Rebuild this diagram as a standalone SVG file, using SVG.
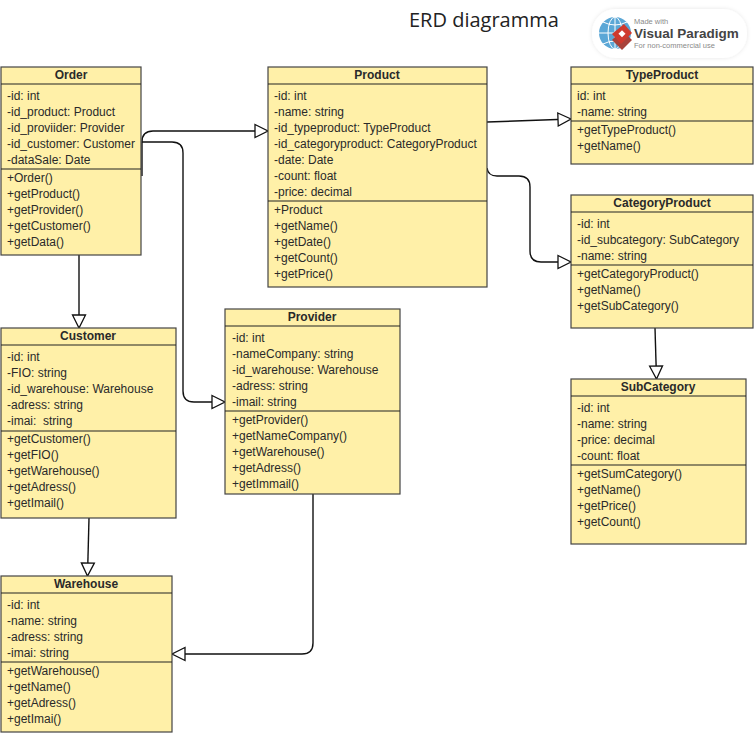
<svg xmlns="http://www.w3.org/2000/svg" width="754" height="734" viewBox="0 0 754 734">
<style>
text{font-family:"Liberation Sans",Arial,sans-serif;font-size:12px;fill:#2a2a2a}
.t{font-weight:bold;text-anchor:middle}
.b{fill:#fff0a8;stroke:#444;stroke-width:1.2}
.d{stroke:#222;stroke-width:1.2;fill:none}
.c{fill:none;stroke:#111;stroke-width:1.4}
.title{font-family:"Open Sans",sans-serif;font-size:20px;fill:#222}
</style>
<defs>
<marker id="tri" markerUnits="userSpaceOnUse" markerWidth="16" markerHeight="16" refX="14" refY="8" orient="auto">
<path d="M1 1.500L14 8L1 14.500Z" fill="#fff" stroke="#111" stroke-width="1.3"/>
</marker>
<filter id="sh" x="-10%" y="-30%" width="120%" height="160%"><feDropShadow dx="0" dy="0" stdDeviation="2" flood-color="#000" flood-opacity=".1"/></filter>
</defs>
<rect width="754" height="734" fill="#fff"/>
<text class="title" x="409" y="27">ERD diagramma</text>
<g id="logo">
<rect x="592" y="9" width="155" height="49" rx="24" fill="#fff" filter="url(#sh)"/>
<circle cx="615" cy="33" r="16" fill="#5ba7d6"/>
<path d="M599 33H631M615 17V49M603 22Q615 28 627 22M603 44Q615 38 627 44" stroke="#fff" stroke-width="1" fill="none"/>
<ellipse cx="615" cy="33" rx="7" ry="16" fill="none" stroke="#fff"/>
<path d="M612 40L622 30L632 40L622 50Z" fill="#a8423a"/>
<path d="M612 34L624 24L632 33L621 44Z" fill="#cf3a2e"/>
<rect x="620" y="31" width="5" height="5" fill="#fff" transform="rotate(45 622 33)"/>
<text x="634" y="24" style="font-size:7.500px;fill:#8a8a8a">Made with</text>
<text x="634" y="38" style="font-size:13.500px;font-weight:bold;fill:#444">Visual Paradigm</text>
<text x="634" y="48" style="font-size:7.500px;fill:#8a8a8a">For non-commercial use</text>
</g>
<g id="connectors">
<path class="c" d="M142 176V142Q142 131 153 131H268" marker-end="url(#tri)"/>
<path class="c" d="M142 142H172Q183 142 183 153V391Q183 402 194 402H225" marker-end="url(#tri)"/>
<path class="c" d="M487 122L571 119" marker-end="url(#tri)"/>
<path class="c" d="M487 168Q488 176 497 176H519Q530 176 530 187V251Q530 262 541 262H571" marker-end="url(#tri)"/>
<path class="c" d="M79 255V328" marker-end="url(#tri)"/>
<path class="c" d="M89 518L87.500 576" marker-end="url(#tri)"/>
<path class="c" d="M655 328L656.500 379" marker-end="url(#tri)"/>
<path class="c" d="M313 494V643Q313 654 302 654H172" marker-end="url(#tri)"/>
</g>
<g id="Order">
<rect class="b" x="1" y="67" width="140" height="188"/><path class="d" d="M1 84H141M1 169H141"/>
<text class="t" x="71" y="79">Order</text>
<text x="7" y="100">-id: int</text><text x="7" y="116">-id_product: Product</text><text x="7" y="132">-id_proviider: Provider</text><text x="7" y="148">-id_customer: Customer</text><text x="7" y="164">-dataSale: Date</text>
<text x="7" y="182">+Order()</text><text x="7" y="198">+getProduct()</text><text x="7" y="214">+getProvider()</text><text x="7" y="230">+getCustomer()</text><text x="7" y="246">+getData()</text>
</g>
<g id="Product">
<rect class="b" x="268" y="67" width="219" height="220"/><path class="d" d="M268 84H487M268 201H487"/>
<text class="t" x="377" y="79">Product</text>
<text x="274" y="100">-id: int</text><text x="274" y="116">-name: string</text><text x="274" y="132">-id_typeproduct: TypeProduct</text><text x="274" y="148">-id_categoryproduct: CategoryProduct</text><text x="274" y="164">-date: Date</text><text x="274" y="180">-count: float</text><text x="274" y="196">-price: decimal</text>
<text x="274" y="214">+Product</text><text x="274" y="230">+getName()</text><text x="274" y="246">+getDate()</text><text x="274" y="262">+getCount()</text><text x="274" y="278">+getPrice()</text>
</g>
<g id="TypeProduct">
<rect class="b" x="571" y="67" width="182" height="97"/><path class="d" d="M571 84H753M571 121H753"/>
<text class="t" x="662" y="79">TypeProduct</text>
<text x="577" y="100">id: int</text><text x="577" y="116">-name: string</text>
<text x="577" y="134">+getTypeProduct()</text><text x="577" y="150">+getName()</text>
</g>
<g id="CategoryProduct">
<rect class="b" x="571" y="195" width="182" height="133"/><path class="d" d="M571 212H753M571 265H753"/>
<text class="t" x="662" y="207">CategoryProduct</text>
<text x="577" y="228">-id: int</text><text x="577" y="244">-id_subcategory: SubCategory</text><text x="577" y="260">-name: string</text>
<text x="577" y="278">+getCategoryProduct()</text><text x="577" y="294">+getName()</text><text x="577" y="310">+getSubCategory()</text>
</g>
<g id="SubCategory">
<rect class="b" x="571" y="379" width="175" height="165"/><path class="d" d="M571 396H746M571 465H746"/>
<text class="t" x="658" y="391">SubCategory</text>
<text x="577" y="412">-id: int</text><text x="577" y="428">-name: string</text><text x="577" y="444">-price: decimal</text><text x="577" y="460">-count: float</text>
<text x="577" y="478">+getSumCategory()</text><text x="577" y="494">+getName()</text><text x="577" y="510">+getPrice()</text><text x="577" y="526">+getCount()</text>
</g>
<g id="Customer">
<rect class="b" x="1" y="328" width="175" height="190"/><path class="d" d="M1 345H176M1 431H176"/>
<text class="t" x="88" y="340">Customer</text>
<text x="7" y="361">-id: int</text><text x="7" y="377">-FIO: string</text><text x="7" y="393">-id_warehouse: Warehouse</text><text x="7" y="409">-adress: string</text><text x="7" y="425" xml:space="preserve">-imai:  string</text>
<text x="7" y="443">+getCustomer()</text><text x="7" y="459">+getFIO()</text><text x="7" y="475">+getWarehouse()</text><text x="7" y="491">+getAdress()</text><text x="7" y="507">+getImail()</text>
</g>
<g id="Provider">
<rect class="b" x="225" y="309" width="175" height="185"/><path class="d" d="M225 326H400M225 411H400"/>
<text class="t" x="312" y="321">Provider</text>
<text x="232" y="342">-id: int</text><text x="232" y="358">-nameCompany: string</text><text x="232" y="374">-id_warehouse: Warehouse</text><text x="232" y="390">-adress: string</text><text x="232" y="406">-imail: string</text>
<text x="232" y="424">+getProvider()</text><text x="232" y="440">+getNameCompany()</text><text x="232" y="456">+getWarehouse()</text><text x="232" y="472">+getAdress()</text><text x="232" y="488">+getImmail()</text>
</g>
<g id="Warehouse">
<rect class="b" x="1" y="576" width="171" height="156"/><path class="d" d="M1 593H172M1 662H172"/>
<text class="t" x="86" y="588">Warehouse</text>
<text x="7" y="609">-id: int</text><text x="7" y="625">-name: string</text><text x="7" y="641">-adress: string</text><text x="7" y="657">-imai: string</text>
<text x="7" y="675">+getWarehouse()</text><text x="7" y="691">+getName()</text><text x="7" y="707">+getAdress()</text><text x="7" y="723">+getImai()</text>
</g>
</svg>
